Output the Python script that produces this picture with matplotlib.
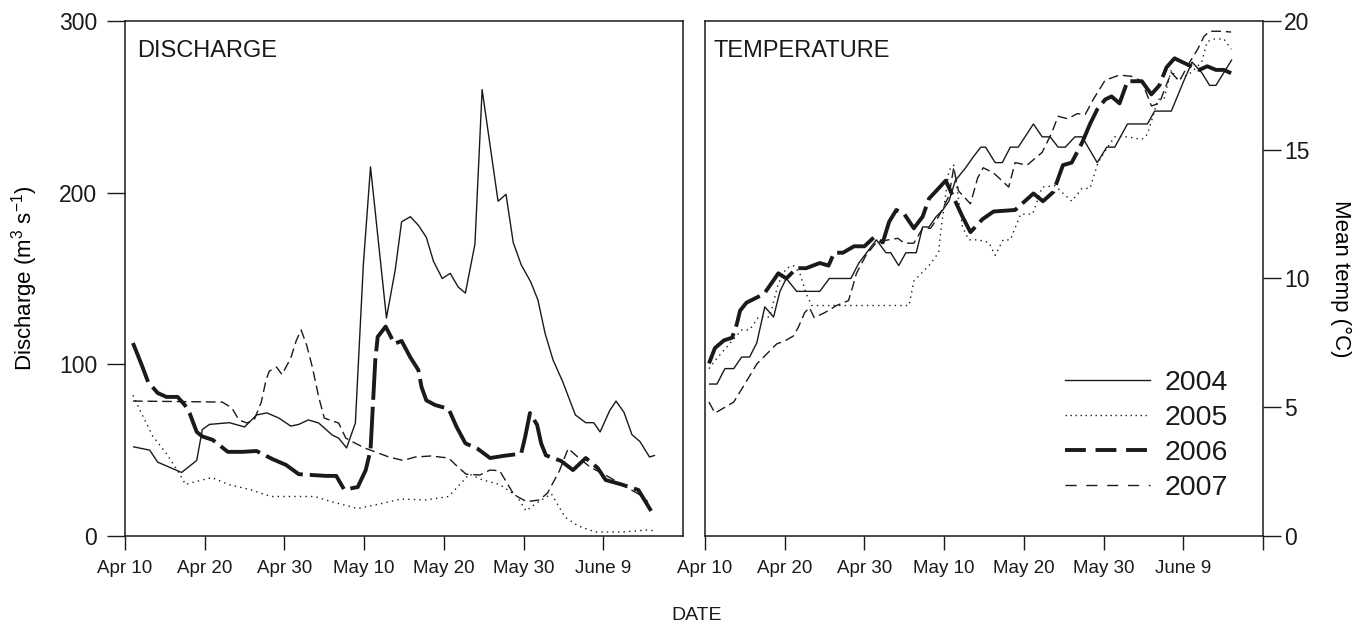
import matplotlib
matplotlib.use("Agg")
import matplotlib.pyplot as plt
from matplotlib.lines import Line2D

plt.rcParams.update({"font.family": ["Liberation Sans", "DejaVu Sans"],
                     "mathtext.fontset": "custom", "mathtext.rm": "Liberation Sans",
                     "mathtext.default": "regular", "lines.scale_dashes": False,
                     "axes.linewidth": 1.1, "text.color": "#1a1a1a"})
INK = "#1a1a1a"

# x = days after Apr 10
date_ticks = [0, 10, 20, 30, 40, 50, 60]
date_labels = ["Apr 10", "Apr 20", "Apr 30", "May 10", "May 20", "May 30", "June 9"]
years = ["2004", "2005", "2006", "2007"]

# discharge (m3/s)
q04_day = [1.0, 3.1, 4.1, 5.6, 7.1, 9.0, 9.7, 10.6, 13.1, 15.0, 16.5, 17.8, 19.3, 20.8, 21.8, 23.0,
           24.3, 26.0, 26.8, 27.8, 28.9, 29.9, 30.8, 32.8, 33.9, 34.7, 35.8, 36.8, 37.8, 38.7, 39.8,
           40.8, 41.8, 42.7, 43.9, 44.8, 46.8, 47.8, 48.7, 49.7, 50.9, 51.8, 52.7, 53.7, 54.9, 56.5,
           57.8, 58.8, 59.6, 60.8, 61.6, 62.6, 63.6, 64.6, 65.8, 66.5]
q04 = [52, 50, 43, 40, 37, 44, 62, 65, 66, 63.5, 70.5, 71.7, 68.7, 64, 65, 67.6,
       65.8, 58.8, 57, 51.3, 65.8, 158, 215, 127, 155, 183, 186, 181, 174, 160, 150,
       153, 145, 141.5, 170, 260, 195, 199, 171, 158, 148, 137.5, 118, 102.5, 90, 70.5,
       66, 66, 60.6, 73, 78.6, 72, 59, 55, 46, 47]

q05_day = [1.0, 1.9, 3.5, 5.2, 6.6, 7.6, 8.7, 10.9, 13.0, 15.7, 18.3, 21.6, 23.8, 25.9, 29.2,
           31.9, 34.6, 37.8, 40.6, 41.7, 43.2, 44.9, 47.0, 49.2, 50.3, 51.9, 53.5, 55.2, 56.8,
           59.0, 62.3, 65.5, 66.5]
q05 = [82, 73, 58, 48, 38, 30, 31.5, 34, 30, 27, 23, 23, 23, 20, 16,
       18.6, 21.5, 21, 23, 28.5, 36, 32.6, 30, 23, 14.6, 20, 24.5, 11, 6,
       2.3, 2.3, 3.5, 3]

q06_day = [1.0, 2.1, 2.9, 4.1, 5.2, 6.6, 7.5, 8.1, 9.0, 9.7, 11.0, 12.9, 14.7, 16.5, 18.5, 20.2,
           21.8, 25.2, 26.5, 27.5, 29.2, 30.2, 30.8, 31.4, 31.7, 32.7, 33.8, 34.7, 35.8, 36.8,
           37.2, 37.8, 38.9, 40.6, 41.6, 42.7, 44.3, 45.8, 47.4, 49.7, 50.2, 50.8, 51.7, 52.2,
           52.8, 54.7, 56.2, 57.8, 59.3, 60.3, 62.3, 64.4, 66.0]
q06 = [112.4, 99.6, 89.7, 83.3, 81, 81, 76.3, 71.6, 60.6, 58, 56, 49, 49, 49.5, 44.8, 41.4,
       36, 35, 35, 27, 28.5, 38.4, 50, 102.5, 116, 122, 112, 113.6, 104, 96.7,
       86.8, 79, 76.3, 74, 63.5, 54, 50.6, 45.4, 46.6, 48, 57.7, 71.6, 64.7, 54,
       47, 43.7, 38.4, 45.4, 39.6, 32.6, 30, 26.8, 14.6]

q07_day = [1.0, 12.2, 13.4, 14.3, 15.3, 16.2, 17.1, 17.7, 18.1, 19.0, 19.7, 20.8, 21.5, 22.1, 22.8,
           23.5, 24.3, 25.0, 26.0, 26.8, 27.7, 28.9, 30.2, 31.4, 33.1, 34.9, 36.4, 38.4, 40.6,
           41.8, 42.8, 44.5, 45.8, 47.0, 47.7, 48.8, 50.4, 52.0, 53.0, 54.5, 55.6, 56.8, 58.4,
           60.1, 62.3, 64.4, 65.6]
q07 = [78.6, 78, 74.6, 67.6, 65.8, 67.6, 78, 91, 96, 98.4, 94, 103.7, 114, 120, 111,
       98.4, 81, 68.7, 67, 65.8, 57, 54, 51, 49, 46, 44, 46, 46.6, 45.4,
       40, 36, 35.5, 38.4, 38, 32.6, 24, 20, 21, 25, 38, 51, 46, 40,
       36, 30, 24.5, 20]

# mean temperature (C)
t04_day = [0.5, 1.5, 2.5, 3.6, 4.6, 5.6, 6.5, 7.5, 8.6, 9.4, 10.2, 11.5, 14.4, 15.6, 18.3, 19.3,
           21.5, 22.7, 23.3, 24.3, 25.2, 26.5, 27.3, 28.1, 29.0, 29.8, 30.6, 31.4, 32.7, 33.6,
           34.6, 35.2, 36.4, 37.3, 38.3, 39.3, 41.2, 42.3, 43.3, 44.3, 45.2, 46.4, 47.3, 49.2,
           50.4, 51.4, 53.0, 55.5, 56.4, 58.5, 59.3, 60.1, 61.1, 62.3, 63.3, 64.1, 65.1, 66.1]
t04 = [5.9, 5.9, 6.5, 6.5, 6.95, 6.95, 7.5, 8.9, 8.5, 9.5, 10.0, 9.5, 9.5, 10.0, 10.0, 10.6,
       11.5, 11.0, 11.0, 10.5, 11.0, 11.0, 12.0, 12.0, 12.4, 12.65, 13.0, 13.8, 14.3, 14.7,
       15.1, 15.1, 14.5, 14.5, 15.1, 15.1, 16.0, 15.5, 15.5, 15.1, 15.1, 15.5, 15.5, 14.5,
       15.1, 15.1, 16.0, 16.0, 16.5, 16.5, 17.1, 17.7, 18.4, 18.0, 17.5, 17.5, 18.0, 18.5]

t05_day = [0.5, 1.5, 3.6, 4.6, 5.6, 6.7, 8.1, 9.2, 10.2, 11.1, 11.9, 12.7, 13.4, 25.6, 26.2,
           28.1, 29.3, 29.6, 30.6, 31.2, 32.3, 33.1, 34.3, 35.6, 36.4, 37.4, 38.3, 39.6, 41.1,
           42.3, 43.9, 46.0, 47.3, 48.3, 49.3, 50.5, 51.4, 53.0, 54.8, 55.5, 56.2, 56.8, 57.6,
           58.5, 59.3, 61.0, 62.3, 63.0, 63.9, 65.1, 66.0]
t05 = [6.5, 6.9, 7.65, 8.0, 8.0, 8.5, 8.5, 9.8, 10.4, 10.5, 10.2, 9.4, 8.95, 8.95, 9.9,
       10.5, 11.0, 11.9, 14.2, 14.4, 12.0, 11.5, 11.5, 11.4, 10.9, 11.5, 11.5, 12.5, 12.5,
       13.55, 13.6, 13.0, 13.5, 13.5, 14.5, 15.1, 15.5, 15.5, 15.4, 15.6, 16.3, 16.95, 17.0,
       18.1, 17.7, 18.0, 18.4, 19.2, 19.3, 19.3, 18.9]

t06_day = [0.5, 1.25, 2.4, 3.4, 4.0, 4.4, 5.2, 7.4, 8.4, 9.2, 10.2, 11.5, 12.7, 14.4, 15.5, 16.2,
           17.3, 18.7, 20.0, 21.2, 22.3, 23.1, 24.0, 25.0, 26.2, 27.3, 28.1, 30.2, 31.1, 32.3,
           33.3, 34.8, 36.2, 38.9, 41.2, 42.4, 43.7, 44.9, 46.0, 47.3, 48.3, 49.2, 50.2, 51.0,
           52.0, 53.0, 54.8, 56.0, 57.0, 57.9, 58.9, 59.9, 61.0, 62.0, 63.0, 64.1, 65.1, 66.0]
t06 = [6.7, 7.3, 7.6, 7.7, 8.24, 8.75, 9.06, 9.4, 9.84, 10.2, 10.0, 10.4, 10.4, 10.6, 10.5, 11.0,
       11.0, 11.25, 11.25, 11.6, 11.4, 12.2, 12.66, 12.5, 11.95, 12.4, 13.1, 13.8, 13.2, 12.4,
       11.8, 12.3, 12.6, 12.66, 13.3, 13.0, 13.36, 14.4, 14.5, 15.27, 16.0, 16.56, 16.95, 17.07,
       16.8, 17.66, 17.66, 17.15, 17.5, 18.2, 18.55, 18.4, 18.24, 18.1, 18.24, 18.1, 18.1, 17.97]

t07_day = [0.5, 1.25, 3.6, 4.6, 6.5, 9.0, 10.0, 11.1, 11.7, 12.5, 13.1, 13.7, 15.0, 16.5, 18.0,
           18.5, 19.0, 20.2, 21.5, 23.0, 24.2, 25.0, 26.2, 27.3, 28.3, 29.3, 30.6, 31.2, 31.8,
           33.3, 34.2, 34.9, 36.2, 38.1, 38.9, 40.4, 42.3, 43.5, 44.3, 45.5, 46.7, 47.7, 48.7,
           50.2, 52.0, 53.5, 54.8, 56.0, 57.0, 57.6, 58.5, 59.5, 60.8, 61.8, 62.6, 63.3, 64.8, 66.0]
t07 = [5.2, 4.77, 5.2, 5.7, 6.68, 7.46, 7.57, 7.77, 8.1, 8.67, 8.87, 8.48, 8.67, 8.95, 9.14,
       9.65, 10.2, 10.9, 11.4, 11.5, 11.56, 11.37, 11.37, 11.95, 11.95, 12.4, 13.2, 14.3, 13.4,
       12.9, 13.9, 14.3, 14.1, 13.55, 14.5, 14.4, 14.9, 15.66, 16.3, 16.2, 16.4, 16.37, 16.95,
       17.7, 17.9, 17.85, 17.66, 16.7, 16.8, 17.3, 18.0, 17.66, 18.4, 18.9, 19.4, 19.6, 19.6, 19.57]

# line styles: (linewidth, dashes in plot, dashes in legend)
styles = [dict(lw=1.0, ls="-"),
          dict(lw=1.0, dashes=(1, 3)),
          dict(lw=2.8, dashes=(30, 5)),
          dict(lw=1.0, dashes=(7, 3.5))]
leg_dashes = [None, (1, 2.6), (15, 7), (8, 7)]

fig = plt.figure(figsize=(13.66, 6.26), dpi=100)
axL = fig.add_axes([0.0915, 0.1438, 0.4085, 0.8227])
axR = fig.add_axes([0.5161, 0.1438, 0.4085, 0.8227])

for (d, v), st in zip([(q04_day, q04), (q05_day, q05), (q06_day, q06), (q07_day, q07)], styles):
    axL.plot(d, v, color=INK, solid_capstyle="butt", dash_capstyle="butt", **st)
for (d, v), st in zip([(t04_day, t04), (t05_day, t05), (t06_day, t06), (t07_day, t07)], styles):
    axR.plot(d, v, color=INK, solid_capstyle="butt", dash_capstyle="butt", **st)

for ax in (axL, axR):
    ax.set_xlim(0, 70)
    for s in ax.spines.values():
        s.set_color(INK)
    ax.tick_params(axis="x", direction="out", length=10, width=1.0, pad=7,
                   labelsize=13.5, colors=INK)
    ax.tick_params(axis="y", direction="out", length=13, width=1.0, labelsize=16.5, colors=INK)

axL.set_xticks(date_ticks)
axL.set_xticklabels(date_labels)
axL.set_ylim(0, 300)
axL.set_yticks([0, 100, 200, 300])
axL.tick_params(axis="y", pad=7)
axL.set_ylabel("Discharge (m$^3$ s$^{-1}$)", fontsize=16, labelpad=14)
axL.text(0.021, 0.942, "DISCHARGE", transform=axL.transAxes, fontsize=17, va="center")

axR.set_xticks(date_ticks + [70])
axR.set_xticklabels(date_labels + [""])
axR.set_ylim(0, 20)
axR.set_yticks([0, 5, 10, 15, 20])
axR.yaxis.tick_right()
axR.tick_params(axis="y", pad=2)
axR.yaxis.set_label_position("right")
axR.set_ylabel("Mean temp (\u00b0C)", fontsize=16, rotation=270, labelpad=30)
axR.text(0.016, 0.942, "TEMPERATURE", transform=axR.transAxes, fontsize=17, va="center")

handles = []
for st, dsh in zip(styles, leg_dashes):
    h = Line2D([], [], color=INK, lw=st["lw"], dash_capstyle="butt")
    if dsh is not None:
        h.set_dashes(dsh)
    handles.append(h)
axR.legend(handles, years, loc="upper left", bbox_to_anchor=(0.645, 0.323), frameon=False,
           fontsize=20.5, handlelength=2.98, handletextpad=0.53, labelspacing=0.32,
           borderpad=0, borderaxespad=0)

fig.text(0.510, 0.003, "DATE", ha="center", va="bottom", fontsize=14)

fig.savefig("out.png", dpi=100)
